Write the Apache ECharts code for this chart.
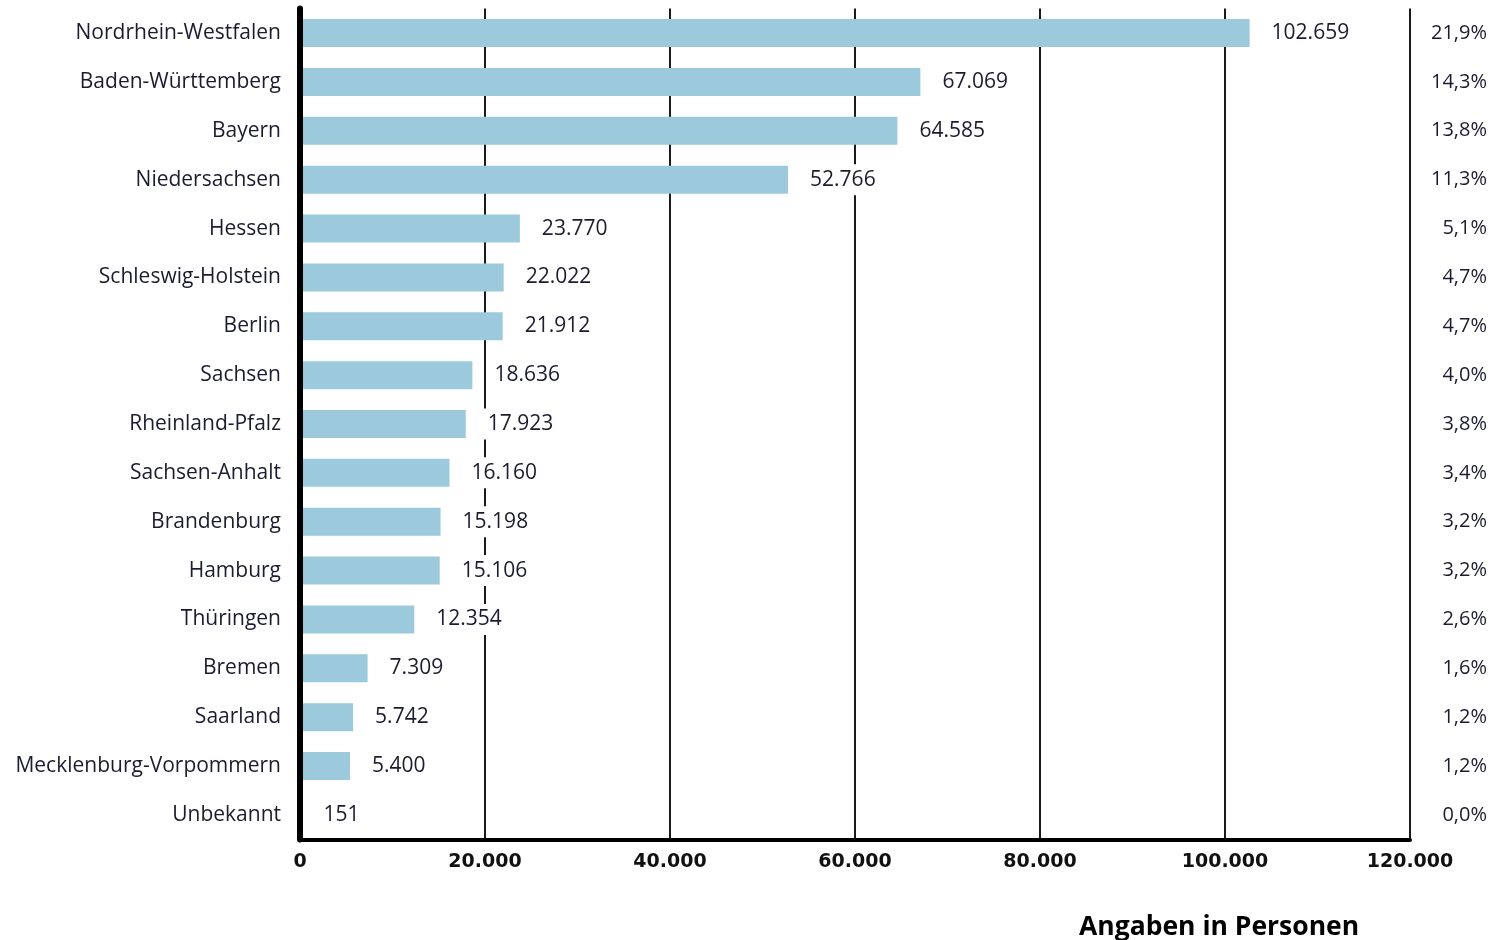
<!DOCTYPE html>
<html>
<head>
<meta charset="utf-8">
<script src="https://cdn.jsdelivr.net/npm/echarts@6/dist/echarts.min.js"></script>
<style>
html,body{margin:0;padding:0;background:#fff;}
#chart{width:1491px;height:940px;}
</style>
</head>
<body>
<div id="chart"></div>
<script>
const categories = ["Nordrhein-Westfalen","Baden-Württemberg","Bayern","Niedersachsen","Hessen","Schleswig-Holstein","Berlin","Sachsen","Rheinland-Pfalz","Sachsen-Anhalt","Brandenburg","Hamburg","Thüringen","Bremen","Saarland","Mecklenburg-Vorpommern","Unbekannt"];
const values = [102659,67069,64585,52766,23770,22022,21912,18636,17923,16160,15198,15106,12354,7309,5742,5400,151];
const shares = ["21,9%","14,3%","13,8%","11,3%","5,1%","4,7%","4,7%","4,0%","3,8%","3,4%","3,2%","3,2%","2,6%","1,6%","1,2%","1,2%","0,0%"];
const xTicks = {min:0, max:120000, interval:20000};
const unitNote = "Angaben in Personen";

function de(n){ return String(Math.round(n)).replace(/\B(?=(\d{3})+(?!\d))/g,'.'); }

const chart = echarts.init(document.getElementById('chart'), null, {renderer:'canvas'});
chart.setOption({
  animation:false,
  backgroundColor:'#fff',
  grid:{left:300, right:81, top:8.6, bottom:100.6, containLabel:false},
  xAxis:{
    type:'value', min:xTicks.min, max:xTicks.max, interval:xTicks.interval,
    axisLine:{show:true, lineStyle:{color:'#000', width:4}},
    axisTick:{show:false},
    axisLabel:{formatter:de, color:'#111', fontFamily:'DejaVu Sans', fontWeight:'bold', fontSize:19, margin:13},
    splitLine:{show:true, lineStyle:{color:'#1a1a1a', width:2}}
  },
  yAxis:[{
    type:'category', data:categories, inverse:true, z:5,
    axisLine:{show:true, lineStyle:{color:'#000', width:6}},
    axisTick:{show:false},
    axisLabel:{color:'#1c1c30', fontFamily:'Open Sans', fontSize:21, margin:19, padding:[4,0,0,0]}
  },{
    type:'category', data:shares, inverse:true, position:'right',
    axisLine:{show:false}, axisTick:{show:false},
    axisLabel:{color:'#1c1c30', fontFamily:'Open Sans', fontSize:20, align:'right', margin:77, padding:[4,0,0,0]}
  }],
  series:[{
    type:'bar', data:values, barWidth:28, yAxisIndex:0,
    itemStyle:{color:'#9dc9dc'},
    label:{show:true, position:'right', distance:17, formatter:p=>de(p.value),
      color:'#1c1c30', fontFamily:'Open Sans', fontSize:21,
      backgroundColor:'#fff', padding:[7,5,3,5]}
  }],
  graphic:[{
    type:'text', left:1079, top:914,
    style:{text:unitNote, font:'bold 26.5px "Open Sans"', fill:'#000'}
  }]
});
</script>
</body>
</html>
